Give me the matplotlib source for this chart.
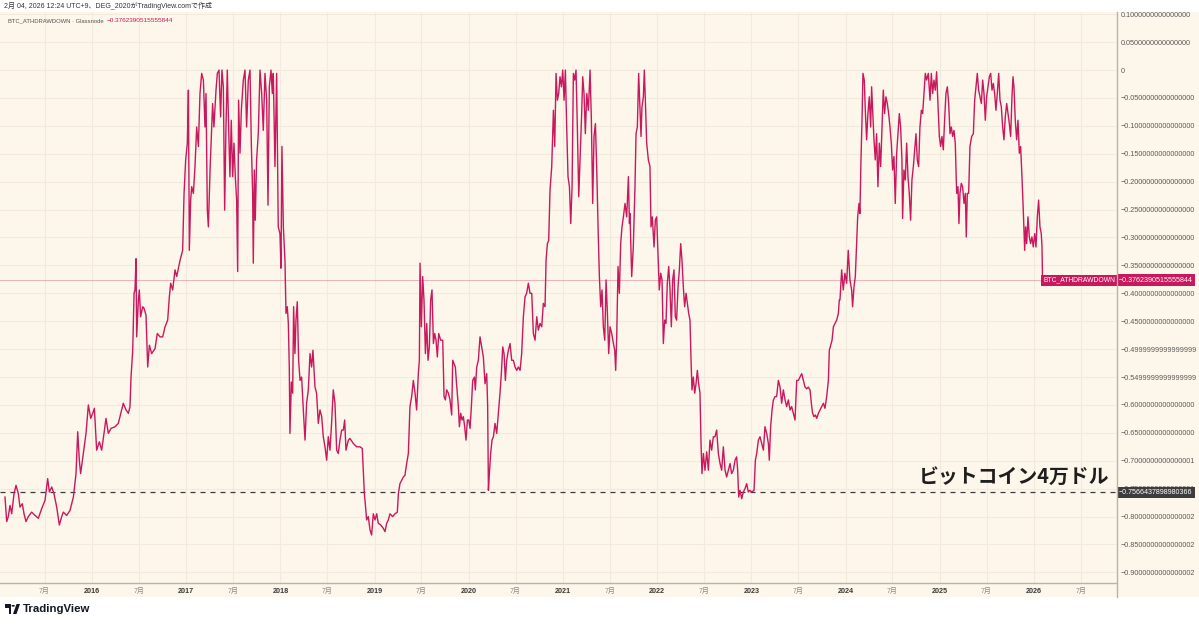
import matplotlib
matplotlib.use("Agg")
import matplotlib.pyplot as plt
import matplotlib.transforms as mtransforms
from matplotlib.lines import Line2D
from matplotlib.patches import Rectangle, Polygon, Circle

# -----------------------------
# Data (decimal year, drawdown from ATH)
# -----------------------------
seg_2015_2017 = [
    (2015.076, -0.765), (2015.094, -0.809), (2015.111, -0.800), (2015.129, -0.780), (2015.147, -0.795),
    (2015.172, -0.759), (2015.193, -0.744), (2015.218, -0.759), (2015.235, -0.783), (2015.260, -0.777),
    (2015.278, -0.795), (2015.299, -0.809), (2015.324, -0.800), (2015.359, -0.792), (2015.395, -0.798),
    (2015.430, -0.803), (2015.465, -0.786), (2015.501, -0.771), (2015.529, -0.732), (2015.547, -0.756),
    (2015.572, -0.747), (2015.596, -0.759), (2015.625, -0.783), (2015.653, -0.815), (2015.678, -0.800),
    (2015.695, -0.792), (2015.731, -0.798), (2015.766, -0.789), (2015.802, -0.765), (2015.830, -0.723),
    (2015.848, -0.648), (2015.865, -0.699), (2015.879, -0.723), (2015.908, -0.687), (2015.936, -0.651),
    (2015.961, -0.600), (2015.986, -0.624), (2016.007, -0.615), (2016.025, -0.606), (2016.049, -0.681),
    (2016.078, -0.666), (2016.102, -0.681), (2016.127, -0.651), (2016.148, -0.624), (2016.173, -0.651),
    (2016.202, -0.642), (2016.244, -0.639), (2016.279, -0.633), (2016.315, -0.609), (2016.332, -0.597),
    (2016.361, -0.609), (2016.386, -0.615), (2016.403, -0.603), (2016.414, -0.550), (2016.432, -0.502),
    (2016.446, -0.400), (2016.456, -0.394), (2016.467, -0.338), (2016.474, -0.478), (2016.492, -0.412),
    (2016.502, -0.394), (2016.516, -0.442), (2016.538, -0.424), (2016.552, -0.427), (2016.573, -0.439),
    (2016.591, -0.532), (2016.609, -0.493), (2016.633, -0.508), (2016.669, -0.499), (2016.693, -0.472),
    (2016.722, -0.478), (2016.750, -0.478), (2016.775, -0.460), (2016.803, -0.448), (2016.821, -0.406),
    (2016.835, -0.382), (2016.856, -0.394), (2016.881, -0.358), (2016.899, -0.370), (2016.934, -0.341),
    (2016.962, -0.323), (2016.977, -0.221), (2016.994, -0.161), (2017.012, -0.131), (2017.023, -0.036),
    (2017.033, -0.323), (2017.047, -0.233), (2017.058, -0.209), (2017.076, -0.221), (2017.093, -0.173),
    (2017.111, -0.102), (2017.129, -0.137), (2017.146, -0.042), (2017.164, -0.006), (2017.182, -0.018),
    (2017.199, -0.102), (2017.210, -0.042), (2017.224, -0.251), (2017.235, -0.281), (2017.253, -0.179),
]

seg_2017_2019 = [
    (2017.270, -0.102), (2017.280, -0.060), (2017.294, -0.102), (2017.316, -0.036), (2017.330, -0.006),
    (2017.348, 0.000), (2017.365, -0.084), (2017.379, 0.000), (2017.394, -0.030), (2017.408, -0.251),
    (2017.422, -0.102), (2017.436, 0.000), (2017.450, -0.102), (2017.464, -0.191), (2017.478, -0.090),
    (2017.493, -0.191), (2017.507, -0.131), (2017.521, -0.191), (2017.535, -0.233), (2017.546, -0.361),
    (2017.556, -0.054), (2017.571, -0.149), (2017.585, -0.072), (2017.606, -0.018), (2017.624, 0.000),
    (2017.641, -0.102), (2017.659, -0.018), (2017.677, 0.000), (2017.691, -0.131), (2017.705, -0.221),
    (2017.712, -0.346), (2017.723, -0.179), (2017.733, -0.269), (2017.747, -0.161), (2017.765, -0.114),
    (2017.783, 0.000), (2017.801, -0.042), (2017.818, -0.108), (2017.836, -0.006), (2017.854, -0.054),
    (2017.868, -0.242), (2017.882, -0.030), (2017.900, 0.000), (2017.914, -0.042), (2017.924, -0.006),
    (2017.942, -0.173), (2017.960, -0.006), (2017.977, -0.281), (2017.995, -0.293), (2018.006, -0.355),
    (2018.016, -0.137), (2018.031, -0.281), (2018.048, -0.341), (2018.059, -0.436), (2018.073, -0.424),
    (2018.084, -0.454), (2018.094, -0.532), (2018.101, -0.651), (2018.116, -0.559), (2018.130, -0.579),
    (2018.140, -0.424), (2018.154, -0.508), (2018.165, -0.448), (2018.179, -0.415), (2018.193, -0.520),
    (2018.208, -0.556), (2018.225, -0.550), (2018.243, -0.609), (2018.261, -0.663), (2018.278, -0.597),
    (2018.296, -0.573), (2018.314, -0.508), (2018.331, -0.532), (2018.345, -0.502), (2018.367, -0.568),
    (2018.384, -0.579), (2018.402, -0.633), (2018.420, -0.609), (2018.438, -0.621), (2018.455, -0.657),
    (2018.473, -0.675), (2018.491, -0.699), (2018.508, -0.657), (2018.526, -0.681), (2018.544, -0.630),
    (2018.561, -0.573), (2018.579, -0.597), (2018.597, -0.681), (2018.614, -0.687), (2018.632, -0.663),
    (2018.650, -0.645), (2018.668, -0.645), (2018.682, -0.627), (2018.696, -0.681), (2018.721, -0.663),
    (2018.738, -0.660), (2018.774, -0.669), (2018.809, -0.675), (2018.845, -0.675), (2018.869, -0.678),
    (2018.880, -0.717), (2018.891, -0.759), (2018.901, -0.777), (2018.915, -0.806), (2018.933, -0.800),
    (2018.951, -0.824), (2018.968, -0.833), (2018.986, -0.795), (2019.004, -0.806), (2019.022, -0.795),
    (2019.039, -0.812), (2019.064, -0.815), (2019.092, -0.821), (2019.110, -0.827), (2019.128, -0.812),
    (2019.145, -0.806), (2019.163, -0.795), (2019.191, -0.800), (2019.216, -0.795), (2019.241, -0.792),
    (2019.252, -0.759), (2019.269, -0.741), (2019.287, -0.735), (2019.305, -0.729), (2019.322, -0.726),
    (2019.340, -0.705), (2019.358, -0.687), (2019.375, -0.603), (2019.393, -0.585), (2019.411, -0.556),
    (2019.429, -0.579), (2019.446, -0.609), (2019.464, -0.544), (2019.475, -0.520),
]

seg_2019_2021 = [
    (2019.482, -0.346), (2019.496, -0.460), (2019.510, -0.370), (2019.524, -0.412), (2019.539, -0.508),
    (2019.553, -0.454), (2019.567, -0.520), (2019.581, -0.496), (2019.595, -0.412), (2019.609, -0.394),
    (2019.624, -0.490), (2019.638, -0.472), (2019.652, -0.484), (2019.666, -0.514), (2019.680, -0.472),
    (2019.701, -0.484), (2019.723, -0.484), (2019.737, -0.585), (2019.751, -0.591), (2019.765, -0.573),
    (2019.783, -0.579), (2019.800, -0.591), (2019.818, -0.618), (2019.829, -0.520), (2019.843, -0.526),
    (2019.857, -0.532), (2019.871, -0.565), (2019.889, -0.603), (2019.900, -0.639), (2019.914, -0.615),
    (2019.928, -0.627), (2019.942, -0.621), (2019.956, -0.639), (2019.970, -0.663), (2019.985, -0.627),
    (2019.999, -0.627), (2020.013, -0.642), (2020.027, -0.603), (2020.041, -0.556), (2020.059, -0.550),
    (2020.069, -0.573), (2020.084, -0.532), (2020.101, -0.520), (2020.119, -0.478), (2020.137, -0.496),
    (2020.154, -0.514), (2020.172, -0.562), (2020.190, -0.544), (2020.200, -0.603), (2020.208, -0.753),
    (2020.218, -0.723), (2020.232, -0.687), (2020.246, -0.663), (2020.261, -0.657), (2020.278, -0.633),
    (2020.296, -0.651), (2020.314, -0.615), (2020.331, -0.579), (2020.345, -0.544), (2020.360, -0.496),
    (2020.374, -0.508), (2020.388, -0.556), (2020.402, -0.520), (2020.420, -0.502), (2020.438, -0.490),
    (2020.455, -0.520), (2020.473, -0.520), (2020.491, -0.532), (2020.508, -0.538), (2020.526, -0.532),
    (2020.544, -0.538), (2020.561, -0.508), (2020.579, -0.442), (2020.597, -0.406), (2020.614, -0.400),
    (2020.632, -0.382), (2020.650, -0.400), (2020.668, -0.400), (2020.685, -0.472), (2020.703, -0.484),
    (2020.721, -0.442), (2020.738, -0.466), (2020.756, -0.454), (2020.774, -0.460), (2020.791, -0.418),
    (2020.809, -0.424), (2020.820, -0.341), (2020.834, -0.311), (2020.848, -0.305), (2020.862, -0.215),
    (2020.880, -0.173), (2020.898, -0.072), (2020.912, -0.137), (2020.926, -0.006), (2020.940, -0.054),
    (2020.954, -0.042), (2020.968, -0.012), (2020.983, -0.030), (2020.997, 0.000), (2021.011, -0.054),
    (2021.025, 0.000), (2021.039, -0.102), (2021.053, -0.191), (2021.068, -0.209), (2021.082, -0.275),
    (2021.096, -0.209), (2021.110, -0.006), (2021.124, -0.018), (2021.138, 0.000), (2021.152, -0.102),
    (2021.167, -0.227), (2021.181, -0.161), (2021.198, -0.078), (2021.209, -0.012), (2021.223, -0.042),
    (2021.237, -0.114), (2021.252, -0.042), (2021.269, -0.072), (2021.287, 0.000), (2021.301, -0.090),
    (2021.315, -0.239), (2021.329, -0.119), (2021.344, -0.096), (2021.358, -0.179), (2021.372, -0.281),
    (2021.386, -0.370), (2021.400, -0.424), (2021.414, -0.394), (2021.428, -0.460), (2021.443, -0.484),
    (2021.457, -0.376), (2021.471, -0.436), (2021.485, -0.508), (2021.499, -0.460), (2021.517, -0.472),
    (2021.535, -0.490), (2021.549, -0.502), (2021.559, -0.538), (2021.570, -0.478), (2021.584, -0.352),
    (2021.598, -0.400), (2021.612, -0.311), (2021.626, -0.281), (2021.641, -0.263), (2021.658, -0.239),
    (2021.676, -0.263), (2021.694, -0.191), (2021.705, -0.275),
]

seg_2021_2023 = [
    (2021.711, -0.257), (2021.729, -0.370), (2021.746, -0.317), (2021.764, -0.209), (2021.775, -0.114),
    (2021.789, -0.102), (2021.803, -0.006), (2021.817, -0.072), (2021.828, -0.119), (2021.838, -0.066),
    (2021.853, -0.048), (2021.863, 0.000), (2021.874, -0.054), (2021.888, -0.131), (2021.906, -0.161),
    (2021.923, -0.173), (2021.934, -0.281), (2021.948, -0.263), (2021.966, -0.317), (2021.980, -0.269),
    (2021.994, -0.263), (2022.008, -0.329), (2022.022, -0.394), (2022.037, -0.364), (2022.051, -0.376),
    (2022.065, -0.490), (2022.079, -0.448), (2022.093, -0.454), (2022.107, -0.382), (2022.122, -0.352),
    (2022.136, -0.394), (2022.150, -0.460), (2022.164, -0.376), (2022.178, -0.358), (2022.192, -0.442),
    (2022.206, -0.448), (2022.221, -0.388), (2022.235, -0.358), (2022.249, -0.311), (2022.263, -0.341),
    (2022.277, -0.388), (2022.291, -0.424), (2022.306, -0.400), (2022.320, -0.418), (2022.334, -0.436),
    (2022.348, -0.448), (2022.359, -0.520), (2022.369, -0.573), (2022.383, -0.550), (2022.398, -0.579),
    (2022.412, -0.562), (2022.426, -0.538), (2022.440, -0.562), (2022.454, -0.579), (2022.465, -0.669),
    (2022.475, -0.723), (2022.490, -0.687), (2022.507, -0.717), (2022.525, -0.684), (2022.543, -0.717),
    (2022.560, -0.663), (2022.578, -0.681), (2022.596, -0.657), (2022.613, -0.657), (2022.631, -0.645),
    (2022.649, -0.687), (2022.667, -0.705), (2022.684, -0.717), (2022.702, -0.675), (2022.720, -0.717),
    (2022.737, -0.729), (2022.755, -0.717), (2022.773, -0.705), (2022.790, -0.723), (2022.808, -0.717),
    (2022.826, -0.699), (2022.843, -0.693), (2022.854, -0.717), (2022.865, -0.765), (2022.879, -0.753),
    (2022.897, -0.768), (2022.914, -0.756), (2022.932, -0.750), (2022.950, -0.741), (2022.967, -0.756),
    (2022.985, -0.753), (2023.003, -0.756), (2023.028, -0.753), (2023.042, -0.699), (2023.056, -0.687),
    (2023.074, -0.663), (2023.091, -0.657), (2023.109, -0.669), (2023.127, -0.681), (2023.144, -0.639),
    (2023.162, -0.651), (2023.180, -0.669), (2023.190, -0.699), (2023.204, -0.639), (2023.219, -0.609),
    (2023.233, -0.591), (2023.250, -0.585), (2023.268, -0.585), (2023.286, -0.556), (2023.304, -0.568),
    (2023.321, -0.597), (2023.339, -0.573), (2023.357, -0.591), (2023.374, -0.603), (2023.392, -0.591),
    (2023.410, -0.609), (2023.427, -0.603), (2023.445, -0.615), (2023.463, -0.627), (2023.481, -0.556),
    (2023.498, -0.556), (2023.516, -0.550), (2023.534, -0.544), (2023.551, -0.556), (2023.569, -0.568),
    (2023.587, -0.571), (2023.604, -0.568), (2023.622, -0.573), (2023.640, -0.603), (2023.650, -0.615),
    (2023.664, -0.621), (2023.679, -0.618), (2023.693, -0.624), (2023.711, -0.615), (2023.728, -0.609),
    (2023.746, -0.603), (2023.764, -0.597), (2023.781, -0.606), (2023.799, -0.585), (2023.817, -0.556),
    (2023.827, -0.502), (2023.842, -0.493), (2023.856, -0.484), (2023.870, -0.460), (2023.888, -0.454),
    (2023.905, -0.448), (2023.923, -0.436), (2023.933, -0.412),
]

seg_2024_2026 = [
    (2023.940, -0.412), (2023.958, -0.358), (2023.975, -0.394), (2023.993, -0.364), (2024.011, -0.382),
    (2024.028, -0.323), (2024.046, -0.376), (2024.064, -0.394), (2024.074, -0.424), (2024.089, -0.388),
    (2024.103, -0.370), (2024.117, -0.311), (2024.128, -0.263), (2024.142, -0.239), (2024.152, -0.257),
    (2024.163, -0.161), (2024.174, -0.090), (2024.184, -0.006), (2024.198, -0.018), (2024.209, -0.072),
    (2024.223, -0.125), (2024.237, -0.078), (2024.251, -0.048), (2024.266, -0.102), (2024.276, -0.030),
    (2024.287, -0.072), (2024.301, -0.125), (2024.315, -0.161), (2024.329, -0.114), (2024.343, -0.209),
    (2024.358, -0.131), (2024.372, -0.173), (2024.386, -0.102), (2024.400, -0.036), (2024.414, -0.078),
    (2024.428, -0.048), (2024.443, -0.060), (2024.457, -0.078), (2024.471, -0.102), (2024.485, -0.131),
    (2024.499, -0.179), (2024.513, -0.155), (2024.527, -0.239), (2024.542, -0.149), (2024.556, -0.114),
    (2024.570, -0.078), (2024.584, -0.102), (2024.598, -0.161), (2024.605, -0.266), (2024.619, -0.179),
    (2024.634, -0.197), (2024.648, -0.131), (2024.662, -0.191), (2024.676, -0.221), (2024.690, -0.269),
    (2024.704, -0.197), (2024.719, -0.173), (2024.733, -0.143), (2024.747, -0.114), (2024.761, -0.161),
    (2024.775, -0.173), (2024.789, -0.102), (2024.804, -0.072), (2024.818, -0.078), (2024.832, -0.042),
    (2024.846, -0.006), (2024.860, -0.018), (2024.878, -0.006), (2024.896, -0.054), (2024.910, -0.006),
    (2024.924, -0.042), (2024.938, -0.018), (2024.952, -0.036), (2024.966, -0.003), (2024.980, -0.060),
    (2024.995, -0.119), (2025.009, -0.137), (2025.023, -0.119), (2025.037, -0.143), (2025.051, -0.090),
    (2025.065, -0.042), (2025.080, -0.030), (2025.094, -0.060), (2025.108, -0.114), (2025.122, -0.102),
    (2025.136, -0.119), (2025.150, -0.108), (2025.164, -0.131), (2025.179, -0.221), (2025.193, -0.209),
    (2025.203, -0.275), (2025.214, -0.221), (2025.228, -0.203), (2025.242, -0.209), (2025.257, -0.239),
    (2025.271, -0.221), (2025.281, -0.299), (2025.292, -0.221), (2025.306, -0.221), (2025.320, -0.137),
    (2025.338, -0.119), (2025.356, -0.114), (2025.370, -0.054), (2025.384, -0.030), (2025.398, -0.006),
    (2025.412, -0.036), (2025.426, -0.048), (2025.441, -0.060), (2025.455, -0.018), (2025.469, -0.042),
    (2025.483, -0.090), (2025.497, -0.048), (2025.511, -0.030), (2025.526, -0.012), (2025.540, -0.006),
    (2025.554, -0.036), (2025.568, -0.024), (2025.582, -0.042), (2025.596, -0.072), (2025.610, -0.042),
    (2025.625, -0.006), (2025.639, -0.054), (2025.653, -0.066), (2025.667, -0.102), (2025.681, -0.125),
    (2025.695, -0.084), (2025.710, -0.060), (2025.724, -0.078), (2025.738, -0.096), (2025.752, -0.119),
    (2025.766, -0.048), (2025.777, -0.012), (2025.787, -0.030), (2025.801, -0.090), (2025.816, -0.125),
    (2025.830, -0.090), (2025.844, -0.149), (2025.858, -0.137), (2025.872, -0.191), (2025.886, -0.251),
    (2025.901, -0.323), (2025.911, -0.281), (2025.922, -0.311), (2025.936, -0.263), (2025.950, -0.299),
    (2025.964, -0.311), (2025.978, -0.299), (2025.992, -0.317), (2026.007, -0.293), (2026.021, -0.317),
    (2026.035, -0.263), (2026.049, -0.233), (2026.063, -0.281), (2026.077, -0.293), (2026.085, -0.317),
    (2026.090, -0.370), (2026.095, -0.3762390515555844),
]

last_value = -0.3762390515555844
level_40k = -0.7566437898980366

ytick_values = [0.10, 0.05, 0.0, -0.05, -0.10, -0.15, -0.20, -0.25, -0.30, -0.35, -0.40,
                -0.45, -0.50, -0.55, -0.60, -0.65, -0.70, -0.75, -0.80, -0.85, -0.90]
ytick_labels = ["0.1000000000000000", "0.0500000000000000", "0",
                "−0.0500000000000000", "−0.1000000000000000", "−0.1500000000000000",
                "−0.2000000000000000", "−0.2500000000000000", "−0.3000000000000000",
                "−0.3500000000000000", "−0.4000000000000000", "−0.4500000000000000",
                "−0.4999999999999999", "−0.5499999999999999", "−0.6000000000000000",
                "−0.6500000000000000", "−0.7000000000000001", "−0.7500000000000001",
                "−0.8000000000000002", "−0.8500000000000002", "−0.9000000000000002"]
years = list(range(2016, 2027))

# -----------------------------
# Style
# -----------------------------
plt.rcParams['font.family'] = ['Liberation Sans', 'Noto Sans CJK JP', 'DejaVu Sans']
W, H = 1199, 625
BG = '#FDF6EA'
GRID = '#F2EADC'
PINK = '#C8185E'
AXLINE = '#B9B4AB'


def fx(px):
    return px / W


def fy(py):
    return 1 - py / H


points = seg_2015_2017 + seg_2017_2019 + seg_2019_2021 + seg_2021_2023 + seg_2024_2026
t = [p[0] for p in points]
dd = [p[1] for p in points]

fig = plt.figure(figsize=(W / 100, H / 100), dpi=100)
fig.patch.set_facecolor('white')
fig.add_artist(Rectangle((0, fy(597)), 1, fy(12) - fy(597), transform=fig.transFigure,
                         facecolor=BG, edgecolor='none', zorder=0))

ax = fig.add_axes([0, fy(583), fx(1117), fy(12) - fy(583)])
ax.set_facecolor(BG)
ax.plot(t, dd, color=PINK, lw=1.0, zorder=4)

ax.set_xlim(2015.023, 2026.881)
ax.set_ylim(-0.919, 0.104)

# x ticks: years and July
xt, xl = [], []
for y in [2015] + years:
    if y > 2015:
        xt.append(y)
        xl.append(str(y))
    xt.append(y + 0.496)
    xl.append("7月")
ax.set_xticks(xt)
ax.set_xticklabels(xl)
for lab in ax.get_xticklabels():
    if lab.get_text() == "7月":
        lab.set_color('#8a8a8a')
        lab.set_fontsize(5.0)
    else:
        lab.set_color('#3a3a3a')
        lab.set_fontweight('bold')
        lab.set_fontsize(5.2)
ax.tick_params(axis='x', length=0, pad=3.5)

ax.yaxis.tick_right()
ax.set_yticks(ytick_values)
ax.set_yticklabels(ytick_labels)
ax.tick_params(axis='y', length=0, pad=2.5, labelsize=5.2, labelcolor='#5a5a5a')

ax.grid(True, color=GRID, lw=0.8, zorder=0)
ax.set_axisbelow(True)
for s in ax.spines.values():
    s.set_visible(False)

fig.add_artist(Line2D([fx(1117), fx(1117)], [fy(12), fy(597)], transform=fig.transFigure,
                      color=AXLINE, lw=1))
fig.add_artist(Line2D([0, fx(1117)], [fy(583), fy(583)], transform=fig.transFigure,
                      color=AXLINE, lw=1))

# last value price line + labels
ax.axhline(last_value, color=PINK, lw=0.7, alpha=0.3, zorder=2)
blend = mtransforms.blended_transform_factory(ax.transAxes, ax.transData)
ax.text(1115 / 1117, last_value, "BTC_ATHDRAWDOWN", transform=blend, ha='right', va='center',
        color='white', fontsize=4.9, clip_on=False, zorder=6,
        bbox=dict(boxstyle='square,pad=0.3', fc=PINK, ec='none'))
ax.text(1119 / 1117, last_value, "−0.3762390515555844", transform=blend, ha='left', va='center',
        color='white', fontsize=5.1, clip_on=False, zorder=6,
        bbox=dict(boxstyle='square,pad=0.3', fc=PINK, ec='none'))

# 40k level
ax.axhline(level_40k, color='#3a3a3a', lw=0.9, ls=(0, (4, 4)), zorder=3)
ax.text(1119 / 1117, level_40k, "−0.7566437898980366", transform=blend, ha='left', va='center',
        color='white', fontsize=5.1, clip_on=False, zorder=6,
        bbox=dict(boxstyle='square,pad=0.3', fc='#3d3d3d', ec='none'))
ax.text(1109 / 1117, -0.728, "ビットコイン4万ドル", transform=blend, ha='right', va='center',
        fontsize=14.3, fontweight='bold', color='#1e1e1e', family=['Noto Sans CJK JP'], zorder=6)

# header and legend
fig.text(fx(4), fy(6.5), "2月 04, 2026 12:24 UTC+9、DEG_2020がTradingView.comで作成",
         ha='left', va='center', fontsize=5, color='#333333')
fig.text(fx(8), fy(21), "BTC_ATHDRAWDOWN · Glassnode", ha='left', va='center',
         fontsize=4.2, color='#555555')
fig.text(fx(107), fy(21), "−0.3762390515555844", ha='left', va='center',
         fontsize=4.6, color=PINK)

# TradingView logo
fig.add_artist(Rectangle((fx(5), fy(607.5)), fx(6), fy(604) - fy(607.5), transform=fig.transFigure,
                         facecolor='#131722', edgecolor='none'))
fig.add_artist(Rectangle((fx(8.5), fy(614)), fx(2.6), fy(604) - fy(614), transform=fig.transFigure,
                         facecolor='#131722', edgecolor='none'))
fig.add_artist(Circle((fx(13.2), fy(605.8)), fx(1.7), transform=fig.transFigure,
                      facecolor='#131722', edgecolor='none'))
fig.add_artist(Polygon([(fx(16.5), fy(604)), (fx(20), fy(604)), (fx(16.5), fy(614)), (fx(13), fy(614))],
                       closed=True, transform=fig.transFigure, facecolor='#131722', edgecolor='none'))
fig.text(fx(23), fy(609.5), "TradingView", ha='left', va='center', fontsize=8.2,
         fontweight='bold', color='#131722')

fig.savefig('out.png', dpi=100)
